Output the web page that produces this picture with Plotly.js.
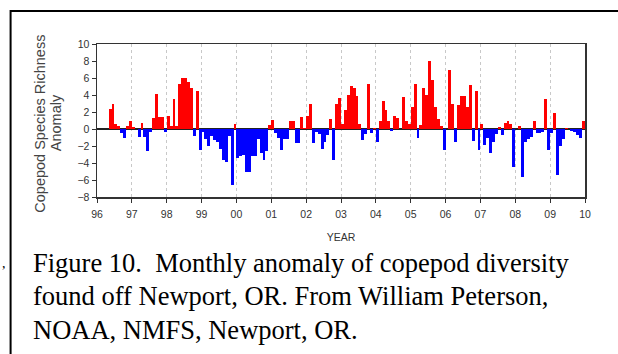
<!DOCTYPE html>
<html>
<head>
<meta charset="utf-8">
<script src="https://cdn.plot.ly/plotly-3.0.1.min.js"></script>
<style>
html,body{margin:0;padding:0;background:#fff;}
#chart{width:618px;height:354px;}
</style>
</head>
<body>
<div id="chart"></div>
<script>
// Monthly copepod species richness anomaly, Jan..Dec each year (null = no data)
const v1996 = [null, null, null, null, 2.4, 2.9, 0.6, 0.3, -0.45, -1.0, 0.4, 0.95];
const v1997 = [0.2, 0, -0.95, 0.75, -0.95, -2.6, -0.3, 1.3, 4.1, 1.4, 1.4, -0.4];
const v1998 = [1.5, 0.3, 3.5, 0.4, 5.3, 6.0, 6.0, 5.5, 4.8, -0.8, 4.5, -2.5];
const v1999 = [-0.4, -1.2, -2.0, -0.8, -1.3, -1.5, -2.4, -3.7, -3.9, -0.8, -6.6, 0.6];
const v2000 = [-3.4, -3.2, -3.0, -5.1, -5.1, -3.2, -3.2, -1.2, -2.8, -3.7, -2.6, 0.5];
const v2001 = [1.1, -0.5, -1.1, -2.5, -1.2, -1.2, 1.0, 0.9, -1.6, -1.6, 1.4, 0.1];
const v2002 = [1.5, 2.9, -1.6, -0.3, -0.6, -2.3, -1.5, -0.7, 1.2, -3.7, 3.0, 3.6];
const v2003 = [0.6, 2.2, 4.0, 5.1, 4.8, 3.9, 0.6, -1.3, -0.6, 5.3, -0.5, 0.1];
const v2004 = [-1.5, 1.0, 3.3, 2.2, 1.0, -0.2, 1.5, 1.3, 0.0, 3.8, 1.0, 0.6];
const v2005 = [2.6, 5.3, -1.1, 0.5, 4.8, 4.0, 8.0, 5.8, 2.6, 1.2, 0.4, -2.5];
const v2006 = [0.0, 6.9, 3.0, -1.5, 2.8, 3.9, 3.9, 2.6, 5.2, -1.4, 4.5, -2.5];
const v2007 = [0.6, -1.9, -1.1, -2.8, -1.5, -0.6, 0.25, -0.75, 0.7, 0.9, 0.55, -4.5];
const v2008 = [0.0, 0.35, -5.6, -1.5, -1.2, -0.9, 1.0, -0.5, -0.5, -0.4, 3.5, -2.5];
const v2009 = [-0.5, 1.9, -5.4, -2.0, -1.2, 0.1, 0.0, -0.2, -0.4, -0.7, -1.0, 1.0];

const years = [1996, 1997, 1998, 1999, 2000, 2001, 2002, 2003, 2004, 2005, 2006, 2007, 2008, 2009];
const yearData = [v1996, v1997, v1998, v1999, v2000, v2001, v2002, v2003, v2004, v2005, v2006, v2007, v2008, v2009];
const tickYears = [1996, 1997, 1998, 1999, 2000, 2001, 2002, 2003, 2004, 2005, 2006, 2007, 2008, 2009, 2010];
const tickLabels = ["96", "97", "98", "99", "00", "01", "02", "03", "04", "05", "06", "07", "08", "09", "10"];
const yTicks = [-8, -6, -4, -2, 0, 2, 4, 6, 8, 10];

const xs = [], ys = [], cols = [];
years.forEach((yr, i) => {
  yearData[i].forEach((v, m) => {
    if (v === null) return;
    xs.push(yr + (m + 0.5) / 12);
    ys.push(v);
    cols.push(v >= 0 ? '#ff0000' : '#0000ff');
  });
});

// layout geometry (pixels)
const W = 618, H = 354, L = 96.5, R = 585, T = 44, B = 196.7;
const px = x => (x - L) / (R - L);
const py = y => (B - y) / (B - T);

const serif = {family: 'Liberation Serif, Times New Roman, serif', size: 26.5, color: '#000'};
const sans = 'Liberation Sans, Arial, sans-serif';

const trace = {
  type: 'bar', x: xs, y: ys, width: 1/12,
  marker: {color: cols, line: {width: 0}},
  hoverinfo: 'x+y'
};

const layout = {
  width: W, height: H,
  margin: {l: L, r: W - R, t: T, b: H - B, pad: 0},
  paper_bgcolor: '#fff', plot_bgcolor: '#fff',
  showlegend: false,
  bargap: 0,
  font: {family: sans, size: 10, color: '#333'},
  xaxis: {
    range: [1996, 2010], tickvals: tickYears, ticktext: tickLabels,
    ticks: 'outside', ticklen: 4, tickwidth: 1, tickcolor: '#333',
    showgrid: true, gridcolor: '#c8c8c8', griddash: 'dot', gridwidth: 1,
    showline: true, linecolor: '#333', linewidth: 1.5, mirror: true,
    zeroline: false, ticklabelstandoff: 3,
    tickfont: {size: 10.5, color: '#333'},
    title: {text: 'YEAR', font: {size: 10.5, color: '#333'}, standoff: 14}
  },
  yaxis: {
    range: [-8, 10], tickvals: yTicks,
    ticks: 'outside', ticklen: 4, tickwidth: 1, tickcolor: '#333',
    showgrid: false, showline: true, linecolor: '#333', linewidth: 1.5, mirror: true,
    zeroline: true, zerolinecolor: '#222', zerolinewidth: 1.5,
    tickfont: {size: 10.5, color: '#333'}
  },
  shapes: [
    {type: 'path', xref: 'paper', yref: 'paper',
     path: `M ${px(10)},${py(360)} L ${px(10)},${py(11)} L ${px(630)},${py(11)}`,
     line: {color: '#000', width: 2}}
  ],
  annotations: [
    {xref: 'paper', yref: 'paper', x: px(40), y: py(124), xanchor: 'center', yanchor: 'middle',
     textangle: -90, text: 'Copepod Species Richness', showarrow: false,
     font: {family: sans, size: 14.5, color: '#444'}},
    {xref: 'paper', yref: 'paper', x: px(55.5), y: py(123), xanchor: 'center', yanchor: 'middle',
     textangle: -90, text: 'Anomaly', showarrow: false,
     font: {family: sans, size: 14.5, color: '#444'}},
    {xref: 'paper', yref: 'paper', x: px(30), y: py(263), xanchor: 'left', yanchor: 'middle',
     text: 'Figure 10.\u00a0 Monthly anomaly of copepod diversity', showarrow: false, font: serif},
    {xref: 'paper', yref: 'paper', x: px(30), y: py(296), xanchor: 'left', yanchor: 'middle',
     text: 'found off Newport, OR. From William Peterson,', showarrow: false, font: serif},
    {xref: 'paper', yref: 'paper', x: px(30), y: py(329), xanchor: 'left', yanchor: 'middle',
     text: 'NOAA, NMFS, Newport, OR.', showarrow: false, font: serif},
    {xref: 'paper', yref: 'paper', x: px(3), y: py(263), xanchor: 'center', yanchor: 'middle',
     text: ',', showarrow: false, font: {family: 'Liberation Serif, serif', size: 14, color: '#000'}}
  ]
};

Plotly.newPlot('chart', [trace], layout, {displayModeBar: false, staticPlot: true});
</script>
</body>
</html>
